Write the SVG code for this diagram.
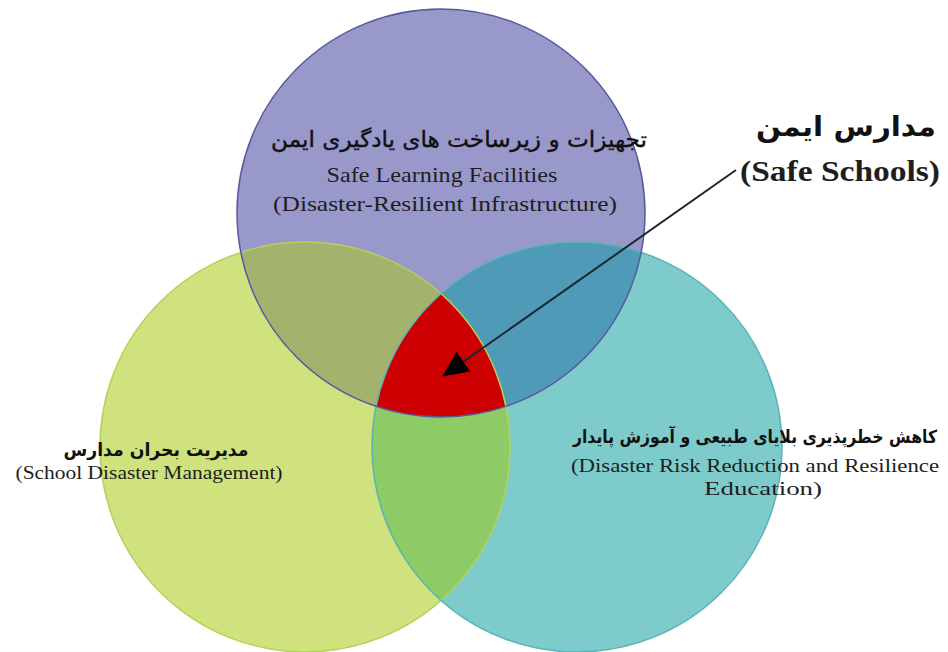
<svg xmlns="http://www.w3.org/2000/svg" xmlns:xlink="http://www.w3.org/1999/xlink" width="948" height="652" viewBox="0 0 948 652">
<style>
.en{font-family:"Liberation Serif","Times New Roman",serif;fill:#1e1e1e}
.fa{font-family:"DejaVu Sans","Noto Sans",sans-serif;fill:#111;direction:rtl}
.b{font-weight:bold}
</style>
<defs>
<circle id="cT" cx="441" cy="213" r="204"/>
<circle id="cL" cx="305" cy="447" r="205"/>
<circle id="cR" cx="577" cy="447" r="205"/>
<clipPath id="clipT"><use xlink:href="#cT"/></clipPath>
<clipPath id="clipL"><use xlink:href="#cL"/></clipPath>
<marker id="ah" viewBox="0 0 26 24" markerWidth="26" markerHeight="24" refX="25" refY="12" orient="auto" markerUnits="userSpaceOnUse">
<path d="M0,0 L26,12 L0,24 z" fill="#000"/>
</marker>
</defs>
<rect width="948" height="652" fill="#fff"/>
<g id="left-circle">
<use xlink:href="#cL" fill="#cfe27d"/>
</g>
<g id="right-circle">
<use xlink:href="#cR" fill="#7ecbcc"/>
</g>
<g id="top-circle">
<use xlink:href="#cT" fill="#9998cb"/>
</g>
<g id="overlaps">
<use xlink:href="#cL" fill="#a3b26c" clip-path="url(#clipT)"/>
<use xlink:href="#cR" fill="#4f9ab6" clip-path="url(#clipT)"/>
<use xlink:href="#cR" fill="#8ccb66" clip-path="url(#clipL)"/>
<g id="safe-schools-center" clip-path="url(#clipT)">
<use xlink:href="#cR" fill="#cc0000" clip-path="url(#clipL)"/>
</g>
</g>
<g id="outlines" fill="none" stroke-width="1.5">
<use xlink:href="#cL" stroke="#b2d25a"/>
<use xlink:href="#cR" stroke="#5ab3b5"/>
<use xlink:href="#cT" stroke="#5858a0"/>
</g>
<g id="top-label">
<text class="fa" x="459" y="147" font-size="22" text-anchor="middle" textLength="376" lengthAdjust="spacingAndGlyphs" stroke="#111" stroke-width="0.4">تجهیزات و زیرساخت های یادگیری ایمن</text>
<text class="en" x="442" y="182" font-size="21" text-anchor="middle" textLength="231" lengthAdjust="spacingAndGlyphs">Safe Learning Facilities</text>
<text class="en" x="445" y="211" font-size="21" text-anchor="middle" textLength="344" lengthAdjust="spacingAndGlyphs">(Disaster-Resilient  Infrastructure)</text>
</g>
<g id="left-label">
<text class="fa b" x="156" y="456" font-size="18" text-anchor="middle" textLength="185" lengthAdjust="spacingAndGlyphs">مدیریت بحران مدارس</text>
<text class="en" x="149" y="479" font-size="19" text-anchor="middle" textLength="267" lengthAdjust="spacingAndGlyphs">(School Disaster  Management)</text>
</g>
<g id="right-label">
<text class="fa b" x="755" y="443" font-size="18" text-anchor="middle" textLength="364" lengthAdjust="spacingAndGlyphs">کاهش خطرپذیری بلایای طبیعی و آموزش پایدار</text>
<text class="en" x="755" y="472" font-size="19" text-anchor="middle" textLength="368" lengthAdjust="spacingAndGlyphs">(Disaster  Risk Reduction  and  Resilience</text>
<text class="en" x="763" y="495" font-size="19" text-anchor="middle" textLength="118" lengthAdjust="spacingAndGlyphs">Education)</text>
</g>
<g id="title">
<text class="fa b" x="846" y="136" font-size="28" text-anchor="middle" textLength="180" lengthAdjust="spacingAndGlyphs">مدارس ایمن</text>
<text class="en b" x="840" y="181" font-size="29" text-anchor="middle" textLength="200" lengthAdjust="spacingAndGlyphs" fill="#111">(Safe Schools)</text>
</g>
<g id="connectors">
<line x1="736" y1="170" x2="443" y2="376" stroke="#1c2633" stroke-width="2" marker-end="url(#ah)"/>
</g>
</svg>
